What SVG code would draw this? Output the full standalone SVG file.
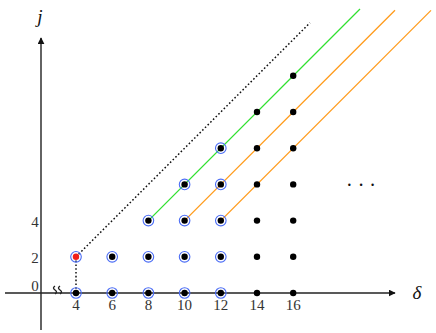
<svg xmlns="http://www.w3.org/2000/svg" width="436" height="333" viewBox="0 0 436 333">
<style>
.ax{stroke:#222;stroke-width:1.4;fill:none}
.dot{fill:#000}
.ring{fill:none;stroke:#4a6cf5;stroke-width:1.1}
.red{fill:#f0201a}
.tk{font-family:"Liberation Serif",serif;font-size:15px;fill:#333;text-anchor:middle}
.var{font-family:"Liberation Serif",serif;font-style:italic;font-size:19px;fill:#111;text-anchor:middle}
.dotted{stroke:#111;stroke-width:1.5;stroke-dasharray:1.6 2.2;fill:none}
.green{stroke:#30e030;stroke-width:1.3;fill:none}
.orange{stroke:#ff9a18;stroke-width:1.3;fill:none}
</style>
<defs>
<marker id="arr" viewBox="0 0 10 10" refX="9" refY="5" markerWidth="7" markerHeight="7" markerUnits="userSpaceOnUse" orient="auto">
<path d="M0,0 L10,5 L0,10 z" fill="#111"/>
</marker>
</defs>
<g id="axes">
<line class="ax" x1="5" y1="293" x2="395" y2="293" marker-end="url(#arr)"/>
<line class="ax" x1="41" y1="330" x2="41" y2="38" marker-end="url(#arr)"/>
<path class="ax" stroke-width="0.9" d="M55,286 q-3,2 0,4 t0,4 M60,286 q-3,2 0,4 t0,4"/>
<text class="var" x="40" y="23">j</text>
<text class="var" x="417" y="299">δ</text>
<text class="tk" x="35" y="291">0</text>
<text class="tk" x="35" y="263">2</text>
<text class="tk" x="35" y="227">4</text>
<text class="tk" x="76" y="310">4</text>
<text class="tk" x="112.2" y="310">6</text>
<text class="tk" x="148.4" y="310">8</text>
<text class="tk" x="184.6" y="310">10</text>
<text class="tk" x="220.8" y="310">12</text>
<text class="tk" x="257" y="310">14</text>
<text class="tk" x="293.2" y="310">16</text>
<text font-family="Liberation Serif,serif" font-size="20" fill="#111" x="346" y="192">· · ·</text>
</g>
<g id="connectors">
<line class="dotted" x1="76" y1="256.8" x2="310" y2="22.8"/>
<line class="dotted" x1="76" y1="256.8" x2="76" y2="293"/>
<line class="green" x1="148.4" y1="220.6" x2="360" y2="9"/>
<line class="orange" x1="184.6" y1="220.6" x2="395" y2="10.2"/>
<line class="orange" x1="220.8" y1="220.6" x2="431" y2="10.4"/>
</g>
<g id="n4_0"><circle class="ring" cx="76" cy="293" r="5.3"/><circle class="dot" cx="76" cy="293" r="3.2"/></g>
<g id="n6_0"><circle class="ring" cx="112.2" cy="293" r="5.3"/><circle class="dot" cx="112.2" cy="293" r="3.2"/></g>
<g id="n8_0"><circle class="ring" cx="148.4" cy="293" r="5.3"/><circle class="dot" cx="148.4" cy="293" r="3.2"/></g>
<g id="n10_0"><circle class="ring" cx="184.6" cy="293" r="5.3"/><circle class="dot" cx="184.6" cy="293" r="3.2"/></g>
<g id="n12_0"><circle class="ring" cx="220.8" cy="293" r="5.3"/><circle class="dot" cx="220.8" cy="293" r="3.2"/></g>
<g id="n14_0"><circle class="dot" cx="257" cy="293" r="3.2"/></g>
<g id="n16_0"><circle class="dot" cx="293.2" cy="293" r="3.2"/></g>
<g id="n4_2"><circle class="ring" cx="76" cy="256.8" r="5.3"/><circle class="red" cx="76" cy="256.8" r="3.2"/></g>
<g id="n6_2"><circle class="ring" cx="112.2" cy="256.8" r="5.3"/><circle class="dot" cx="112.2" cy="256.8" r="3.2"/></g>
<g id="n8_2"><circle class="ring" cx="148.4" cy="256.8" r="5.3"/><circle class="dot" cx="148.4" cy="256.8" r="3.2"/></g>
<g id="n10_2"><circle class="ring" cx="184.6" cy="256.8" r="5.3"/><circle class="dot" cx="184.6" cy="256.8" r="3.2"/></g>
<g id="n12_2"><circle class="ring" cx="220.8" cy="256.8" r="5.3"/><circle class="dot" cx="220.8" cy="256.8" r="3.2"/></g>
<g id="n14_2"><circle class="dot" cx="257" cy="256.8" r="3.2"/></g>
<g id="n16_2"><circle class="dot" cx="293.2" cy="256.8" r="3.2"/></g>
<g id="n8_4"><circle class="ring" cx="148.4" cy="220.6" r="5.3"/><circle class="dot" cx="148.4" cy="220.6" r="3.2"/></g>
<g id="n10_4"><circle class="ring" cx="184.6" cy="220.6" r="5.3"/><circle class="dot" cx="184.6" cy="220.6" r="3.2"/></g>
<g id="n12_4"><circle class="ring" cx="220.8" cy="220.6" r="5.3"/><circle class="dot" cx="220.8" cy="220.6" r="3.2"/></g>
<g id="n14_4"><circle class="dot" cx="257" cy="220.6" r="3.2"/></g>
<g id="n16_4"><circle class="dot" cx="293.2" cy="220.6" r="3.2"/></g>
<g id="n10_6"><circle class="ring" cx="184.6" cy="184.4" r="5.3"/><circle class="dot" cx="184.6" cy="184.4" r="3.2"/></g>
<g id="n12_6"><circle class="ring" cx="220.8" cy="184.4" r="5.3"/><circle class="dot" cx="220.8" cy="184.4" r="3.2"/></g>
<g id="n14_6"><circle class="dot" cx="257" cy="184.4" r="3.2"/></g>
<g id="n16_6"><circle class="dot" cx="293.2" cy="184.4" r="3.2"/></g>
<g id="n12_8"><circle class="ring" cx="220.8" cy="148.2" r="5.3"/><circle class="dot" cx="220.8" cy="148.2" r="3.2"/></g>
<g id="n14_8"><circle class="dot" cx="257" cy="148.2" r="3.2"/></g>
<g id="n16_8"><circle class="dot" cx="293.2" cy="148.2" r="3.2"/></g>
<g id="n14_10"><circle class="dot" cx="257" cy="112" r="3.2"/></g>
<g id="n16_10"><circle class="dot" cx="293.2" cy="112" r="3.2"/></g>
<g id="n16_12"><circle class="dot" cx="293.2" cy="75.8" r="3.2"/></g>
</svg>
